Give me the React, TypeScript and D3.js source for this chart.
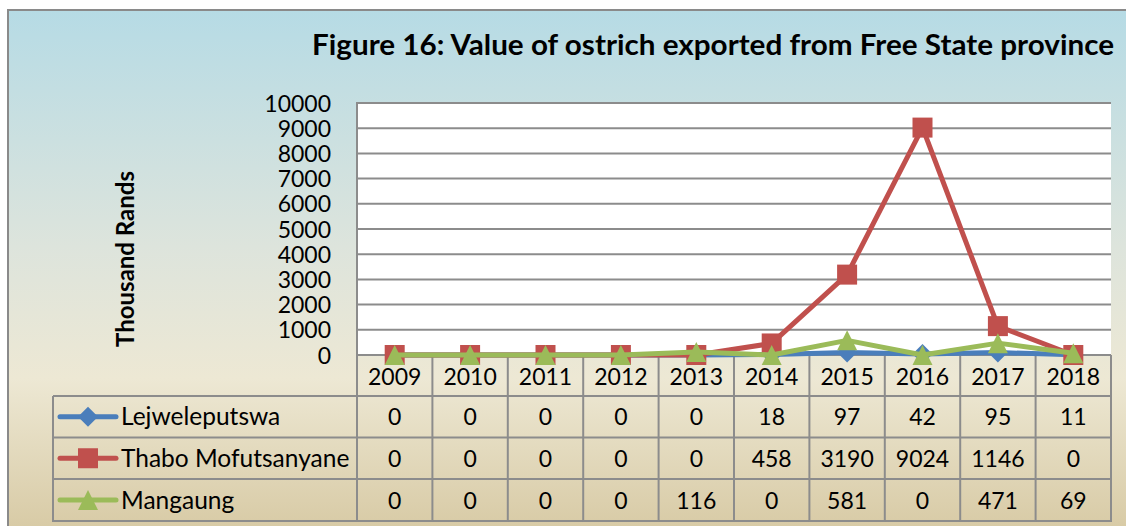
import React from 'react';
import * as d3 from 'd3';

const years = ['2009', '2010', '2011', '2012', '2013', '2014', '2015', '2016', '2017', '2018'];
const lejweleputswa = [0, 0, 0, 0, 0, 18, 97, 42, 95, 11];
const thaboMofutsanyane = [0, 0, 0, 0, 0, 458, 3190, 9024, 1146, 0];
const mangaung = [0, 0, 0, 0, 116, 0, 581, 0, 471, 69];
const yTicks = [0, 1000, 2000, 3000, 4000, 5000, 6000, 7000, 8000, 9000, 10000];
const title = 'Figure 16: Value of ostrich exported from Free State province';
const yLabel = 'Thousand Rands';

const series = [
  { name: 'Lejweleputswa', values: lejweleputswa, color: '#4a7ebb', marker: 'diamond' },
  { name: 'Thabo Mofutsanyane', values: thaboMofutsanyane, color: '#c0504d', marker: 'square' },
  { name: 'Mangaung', values: mangaung, color: '#9bbb59', marker: 'triangle' },
];

const FONT = 'Lato, "Open Sans", sans-serif';

function Marker({ type, x, y, color }: { type: string; x: number; y: number; color: string }) {
  const s = 10;
  if (type === 'square') return <rect x={x - s} y={y - s} width={2 * s} height={2 * s} fill={color} />;
  if (type === 'diamond')
    return <path d={`M${x},${y - s}L${x + s},${y}L${x},${y + s}L${x - s},${y}Z`} fill={color} />;
  return <path d={`M${x},${y - s}L${x + s},${y + s}L${x - s},${y + s}Z`} fill={color} />;
}

export default function App() {
  const W = 1126, H = 526;
  const plotL = 357, plotR = 1111, plotT = 103, plotB = 355;
  const x = d3.scaleBand<string>().domain(years).range([plotL, plotR]);
  const cx = (k: string) => (x(k) as number) + x.bandwidth() / 2;
  const y = d3.scaleLinear().domain([0, 10000]).range([plotB, plotT]);
  const line = d3.line<number>().x((_, i) => cx(years[i])).y((d) => y(d));

  const rowEdges = [355, 396, 437.5, 479, 521];
  const legL = 53;
  const grid = '#8c8c8c';

  return (
    <svg width={W} height={H} style={{ position: 'absolute', left: 0, top: 0 }} fontFamily={FONT}>
      <defs>
        <linearGradient id="bg" x1="0" y1="0" x2="0" y2="1">
          <stop offset="0" stopColor="#b6dbe5" />
          <stop offset="0.45" stopColor="#dde4dc" />
          <stop offset="0.7" stopColor="#ede8d4" />
          <stop offset="1" stopColor="#d7c9a3" />
        </linearGradient>
      </defs>
      <rect x={0} y={0} width={W} height={H} fill="#ffffff" />
      <rect x={8} y={10} width={W} height={H} fill="url(#bg)" stroke="#8a8a8a" strokeWidth={2} />

      <text
        x={312}
        y={55}
        fontSize={28}
        fontWeight="bold"
        fill="#000"
        textLength={802}
        lengthAdjust="spacingAndGlyphs"
      >
        {title}
      </text>

      <text
        transform={`translate(134,259) rotate(-90)`}
        textAnchor="middle"
        fontSize={24}
        fontWeight="bold"
        fill="#000"
      >
        {yLabel}
      </text>

      <rect x={plotL} y={plotT} width={plotR - plotL} height={plotB - plotT} fill="#ffffff" />
      {yTicks.map((t) => (
        <g key={t}>
          {t > 0 && <line x1={plotL} x2={plotR} y1={y(t)} y2={y(t)} stroke={grid} strokeWidth={2} />}
          <text x={331} y={y(t) + 8.5} textAnchor="end" fontSize={23} fill="#000">
            {t}
          </text>
        </g>
      ))}
      <line x1={plotL} x2={plotL} y1={plotT - 1} y2={rowEdges[4] + 1} stroke={grid} strokeWidth={2} />

      {/* table */}
      {rowEdges.map((r, i) => (
        <line key={i} x1={i === 0 ? plotL : legL} x2={plotR} y1={r} y2={r} stroke={grid} strokeWidth={2} />
      ))}
      <line x1={legL} x2={legL} y1={rowEdges[1]} y2={rowEdges[4] + 1} stroke={grid} strokeWidth={2} />
      {years.map((k) => (
        <line
          key={k}
          x1={(x(k) as number) + x.bandwidth()}
          x2={(x(k) as number) + x.bandwidth()}
          y1={rowEdges[0]}
          y2={rowEdges[4] + 1}
          stroke={grid}
          strokeWidth={2}
        />
      ))}
      {years.map((k) => (
        <text key={k} x={cx(k)} y={(rowEdges[0] + rowEdges[1]) / 2 + 9} textAnchor="middle" fontSize={23}>
          {k}
        </text>
      ))}
      {series.map((s, si) => {
        const mid = (rowEdges[si + 1] + rowEdges[si + 2]) / 2;
        return (
          <g key={s.name}>
            <line x1={60} x2={116} y1={mid} y2={mid} stroke={s.color} strokeWidth={5} strokeLinecap="round" />
            <Marker type={s.marker} x={88} y={mid} color={s.color} />
            <text x={121} y={mid + 8.5} fontSize={24.5}>
              {s.name}
            </text>
            {s.values.map((v, i) => (
              <text key={i} x={cx(years[i])} y={mid + 8.5} textAnchor="middle" fontSize={23}>
                {v}
              </text>
            ))}
          </g>
        );
      })}

      {/* series */}
      {series.map((s) => (
        <g key={s.name}>
          <path d={line(s.values) as string} fill="none" stroke={s.color} strokeWidth={5} strokeLinejoin="round" />
          {s.values.map((v, i) => (
            <Marker key={i} type={s.marker} x={cx(years[i])} y={y(v)} color={s.color} />
          ))}
        </g>
      ))}
    </svg>
  );
}
